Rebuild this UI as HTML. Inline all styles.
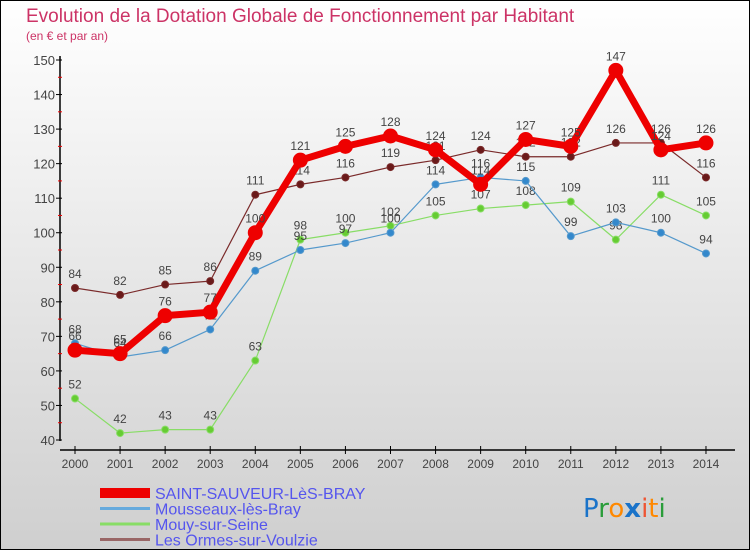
<!DOCTYPE html>
<html><head><meta charset="utf-8"><style>
html,body{margin:0;padding:0}
body{width:750px;height:550px;overflow:hidden;font-family:"Liberation Sans",sans-serif}
</style></head><body>
<svg id="chart" width="750" height="550" xmlns="http://www.w3.org/2000/svg">
<defs><linearGradient id="bg" x1="0" y1="0" x2="0" y2="1"><stop offset="0" stop-color="#ffffff"/><stop offset="1" stop-color="#cfcfcf"/></linearGradient></defs>
<rect x="0.5" y="0.5" width="749" height="549" fill="url(#bg)" stroke="#000"/>
<text x="26" y="22" font-size="19" fill="#cc3366">Evolution de la Dotation Globale de Fonctionnement par Habitant</text>
<text x="26" y="40" font-size="12" fill="#cc3366">(en € et par an)</text>
<g id="axes"></g>
<g id="series"></g>
<g id="legend"></g>
<text x="583" y="517" font-size="26" font-family="'DejaVu Sans',sans-serif"><tspan fill="#1a73c9">P</tspan><tspan fill="#2a9d3a">r</tspan><tspan fill="#ff8800">o</tspan><tspan fill="#1a73c9" font-weight="bold">x</tspan><tspan fill="#e53">i</tspan><tspan fill="#ff8800">t</tspan><tspan fill="#2a9d3a">i</tspan></text>
</svg>
<script>
const years=[2000,2001,2002,2003,2004,2005,2006,2007,2008,2009,2010,2011,2012,2013,2014];
const yTicks=[40,50,60,70,80,90,100,110,120,130,140,150];
const saintSauveur=[66,65,76,77,100,121,125,128,124,114,127,125,147,124,126];
const mousseaux=[68,64,66,72,89,95,97,100,114,116,115,99,103,100,94];
const mouy=[52,42,43,43,63,98,100,102,105,107,108,109,98,111,105];
const ormes=[84,82,85,86,111,114,116,119,121,124,122,122,126,126,116];
const seriesNames=["SAINT-SAUVEUR-LèS-BRAY","Mousseaux-lès-Bray","Mouy-sur-Seine","Les Ormes-sur-Voulzie"];

const NS="http://www.w3.org/2000/svg";
const xS=i=>75+i*45.07;
const yS=v=>440-(v-40)*3.4545;
function mk(tag,attrs,parent){const e=document.createElementNS(NS,tag);for(const k in attrs)e.setAttribute(k,attrs[k]);parent.appendChild(e);return e;}
const axes=document.getElementById('axes');
const yAxis=mk('line',{x1:60,y1:56,x2:60,y2:441,stroke:'#000','stroke-width':1.5},axes);


const xAxis=mk('line',{x1:60,y1:450,x2:735,y2:450,stroke:'#000','stroke-width':1.5},axes);


yTicks.forEach((v,i)=>{
  mk('line',{x1:56,y1:yS(v),x2:62,y2:yS(v),stroke:'#000'},axes);
  if(i<yTicks.length-1) mk('line',{x1:58,y1:yS(v+5),x2:62,y2:yS(v+5),stroke:'#e00'},axes);
  const t=mk('text',{x:55,y:yS(v)+5,'font-size':13,'text-anchor':'end',fill:'#444'},axes);
  t.textContent=v;
  
  
});
years.forEach((y,i)=>{
  mk('line',{x1:xS(i),y1:446,x2:xS(i),y2:454,stroke:'#000'},axes);
  const t=mk('text',{x:xS(i),y:468,'font-size':12,'text-anchor':'middle',fill:'#444'},axes);
  t.textContent=y;
  
  
});
const sg=document.getElementById('series');
function draw(vals,color,dot,w,r,name){
  const g=mk('g',{},sg);
  
  
  const p=mk('polyline',{points:vals.map((v,i)=>xS(i)+','+yS(v)).join(' '),fill:'none',stroke:color,'stroke-width':w,'stroke-linejoin':'round'},g);
  
  
  vals.forEach((v,i)=>{
    const c=mk('circle',{cx:xS(i),cy:yS(v),r:r,fill:dot,stroke:color,'stroke-width':1},g);
    
    
    const t=mk('text',{x:xS(i),y:yS(v)-10,'font-size':12,'text-anchor':'middle',fill:'#444'},g);
    t.textContent=v;
    
    
  });
}
draw(ormes,'#7a2a2a','#6a1a1a',1.2,3.5,'ormes-series');
draw(mouy,'#88dd66','#66cc33',1.2,3.5,'mouy-series');
draw(mousseaux,'#5599cc','#3388cc',1.2,3.5,'mousseaux-series');
draw(saintSauveur,'#ee0000','#ee0000',7,7,'saint-sauveur-series');
const lg=document.getElementById('legend');
const lcol=['#ee0000','#66aadd','#88dd66','#996666'];
const lw=[10,3,3,3];
seriesNames.forEach((n,i)=>{
  const y=493+i*15.5;
  const l=mk('line',{x1:100,y1:y,x2:150,y2:y,stroke:lcol[i],'stroke-width':lw[i]},lg);
  
  
  const t=mk('text',{x:155,y:y+6,'font-size':16,fill:'#5555ee'},lg);
  t.textContent=n;
  
  
});
</script>
</body></html>
